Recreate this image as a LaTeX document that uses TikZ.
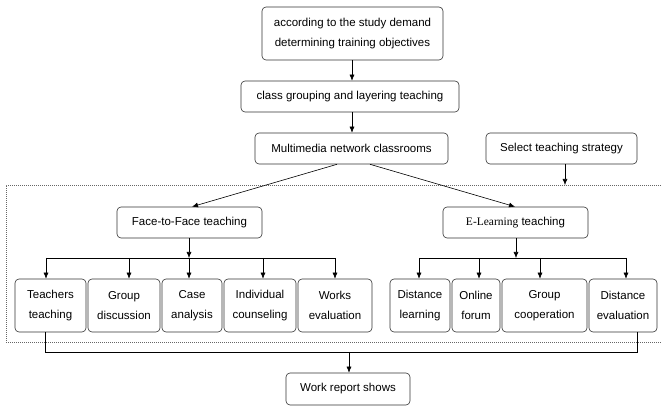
\documentclass[tikz,border=0pt]{standalone}
\usepackage{fontspec}
\setmainfont{Liberation Sans}
\newfontfamily\seriffont{Liberation Serif}
\usetikzlibrary{arrows.meta,calc}
\tikzset{
  box/.style={draw=black!80, rounded corners=4pt, align=center, inner sep=0pt,
    font=\fontsize{11.5}{20}\selectfont, line width=0.6pt},
  arr/.style={-{Latex[length=6pt,width=5pt]}, line width=0.6pt},
  ln/.style={line width=0.6pt},
  dashbox/.style={draw=black!60, dash pattern=on 1pt off 1pt, line width=0.6pt}
}
\begin{document}
\begin{tikzpicture}[x=1pt,y=-1pt]
\useasboundingbox (0,0) rectangle (662,406);
% top
\node[box, minimum width=181pt, minimum height=53pt] (top) at (352.5,33.5) {according to the study demand\\determining training objectives};
\node[box, minimum width=218pt, minimum height=31pt] (cls) at (350,96.5) {class grouping and layering teaching};
\node[box, minimum width=193pt, minimum height=31pt] (mm) at (351.5,148.5) {Multimedia network classrooms};
\node[box, minimum width=151pt, minimum height=31pt] (sel) at (561.5,148.5) {Select teaching strategy};
\node[box, minimum width=145pt, minimum height=31pt] (f2f) at (189.5,222.5) {Face-to-Face teaching};
\node[box, minimum width=145pt, minimum height=31pt] (el) at (515.5,222.5) {{\seriffont E-Learning} teaching};
% bottom row
\node[box, minimum width=71pt, minimum height=53pt] (t1) at (50.5,305.5) {Teachers\\teaching};
\node[box, minimum width=72pt, minimum height=53pt] (t2) at (124,305.5) {Group\\discussion};
\node[box, minimum width=60pt, minimum height=53pt] (t3) at (192,305.5) {Case\\analysis};
\node[box, minimum width=72pt, minimum height=53pt] (t4) at (260,305.5) {Individual\\counseling};
\node[box, minimum width=74pt, minimum height=53pt] (t5) at (335,305.5) {Works\\evaluation};
\node[box, minimum width=60pt, minimum height=53pt] (r1) at (420,305.5) {Distance\\learning};
\node[box, minimum width=48pt, minimum height=53pt] (r2) at (476,305.5) {Online\\forum};
\node[box, minimum width=85pt, minimum height=53pt] (r3) at (544.5,305.5) {Group\\cooperation};
\node[box, minimum width=68pt, minimum height=53pt] (r4) at (623,305.5) {Distance\\evaluation};
\node[box, minimum width=124pt, minimum height=32pt] (wr) at (348,389) {Work report shows};
% dashed frame
\coordinate (dtl) at (6,185);
\coordinate (dbl) at (6,342);
\draw[dashbox] (665,185) -- (dtl) -- (dbl) -- (665,342);
% top arrows
\draw[arr] (top.south -| 352,0) -- (cls.north -| 352,0);
\draw[arr] (cls.south -| 352,0) -- (mm.north -| 352,0);
\draw[arr] (sel.south -| 565,0) -- (dtl -| 565,0);
\draw[arr] (mm.south -| 337,0) -- (f2f.north -| 192,0);
\draw[arr] (mm.south -| 370,0) -- (el.north -| 515,0);
% left bus
\coordinate (bl1) at (46,258);
\coordinate (bl5) at (335,258);
\draw[ln] (bl1) -- (bl5);
\draw[arr] (f2f.south -| 189,0) -- (189,258);
\draw[arr] (bl1) -- (bl1 |- t1.north);
\draw[arr] (129,258) -- (t2.north -| 129,0);
\draw[arr] (189,258) -- (t3.north -| 189,0);
\draw[arr] (263,258) -- (t4.north -| 263,0);
\draw[arr] (bl5) -- (bl5 |- t5.north);
% right bus
\coordinate (br1) at (419,258);
\coordinate (br4) at (626,258);
\draw[ln] (br1) -- (br4);
\draw[arr] (el.south -| 516,0) -- (516,258);
\draw[arr] (br1) -- (br1 |- r1.north);
\draw[arr] (479,258) -- (r2.north -| 479,0);
\draw[arr] (540,258) -- (r3.north -| 540,0);
\draw[arr] (br4) -- (br4 |- r4.north);
% bottom collector
\coordinate (cl) at (45,352);
\coordinate (cr) at (637,352);
\draw[ln] (t1.south -| cl) -- (cl) -- (cr) -- (r4.south -| cr);
\draw[arr] (349,352) -- (wr.north -| 349,0);
\end{tikzpicture}
\end{document}
